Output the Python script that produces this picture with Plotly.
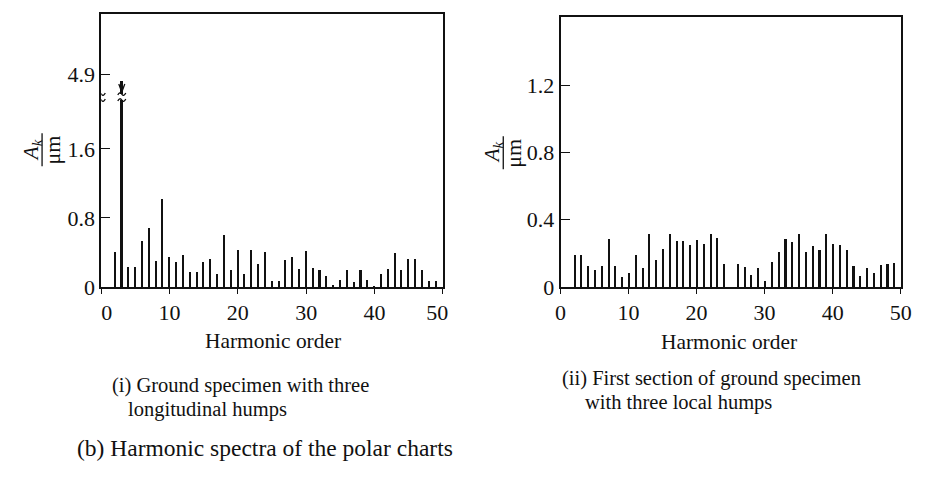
import plotly.graph_objects as go

W, H = 929, 478

# ---------------- data ----------------
harmonics_left = list(range(2, 50))
amplitude_left = [0.41, 4.83, 0.24, 0.24, 0.54, 0.69, 0.31, 1.02, 0.35, 0.29,
                  0.37, 0.18, 0.18, 0.29, 0.33, 0.16, 0.61, 0.20, 0.43, 0.16,
                  0.43, 0.27, 0.41, 0.07, 0.07, 0.32, 0.35, 0.21, 0.42, 0.22,
                  0.20, 0.13, 0.03, 0.085, 0.20, 0.06, 0.20, 0.09, 0.02, 0.15,
                  0.21, 0.40, 0.20, 0.33, 0.33, 0.20, 0.07, 0.07]

harmonics_right = list(range(2, 50))
amplitude_right = [0.19, 0.19, 0.125, 0.106, 0.13, 0.29, 0.125, 0.06, 0.087, 0.195,
                   0.118, 0.315, 0.164, 0.23, 0.315, 0.276, 0.276, 0.25, 0.28, 0.257,
                   0.315, 0.295, 0.14, 0.0, 0.14, 0.124, 0.075, 0.116, 0.039, 0.149,
                   0.21, 0.29, 0.27, 0.32, 0.21, 0.245, 0.22, 0.32, 0.26, 0.25,
                   0.22, 0.13, 0.066, 0.116, 0.085, 0.135, 0.139, 0.143]

x_ticks = [0, 10, 20, 30, 40, 50]
x_tick_text_left = ["\u00a0\u00a00", "10", "20", "30", "40", "50\u00a0\u00a0"]
x_tick_text_right = ["0", "10", "20", "30", "40", "50"]
y_ticks_left = [0, 0.8, 1.6, 4.9]
y_tick_text_left = ["0", "0.8", "1.6", "4.9"]
y_ticks_right = [0, 0.4, 0.8, 1.2]
y_tick_text_right = ["0", "0.4", "0.8", "1.2"]

x_title = "Harmonic order"
caption_left = ["(i) Ground specimen with three", "longitudinal humps"]
caption_right = ["(ii) First section of ground specimen", "with three local humps"]
caption_bottom = "(b) Harmonic spectra of the polar charts"

# broken axis on the left panel
BREAK_AT = 2.2      # value where the axis is interrupted
BREAK_SHIFT = 2.44  # value range removed by the break


def to_display(v):
    return v if v <= BREAK_AT else v - BREAK_SHIFT


def px(x):
    return x / W


def py(y):
    return 1 - y / H


FONT = "Liberation Serif, Times New Roman, serif"
INK = "#111111"

fig = go.Figure()

fig.add_trace(go.Bar(
    x=harmonics_left, y=[to_display(v) for v in amplitude_left],
    width=0.3, marker=dict(color=INK, line=dict(width=0)),
    xaxis="x", yaxis="y", showlegend=False))

fig.add_trace(go.Bar(
    x=harmonics_right, y=amplitude_right,
    width=0.3, marker=dict(color=INK, line=dict(width=0)),
    xaxis="x2", yaxis="y2", showlegend=False))

axis_common = dict(
    showline=True, linecolor=INK, linewidth=1.6, mirror=True,
    showgrid=False, zeroline=False,
    tickfont=dict(family=FONT, size=22, color=INK),
    tickcolor=INK, tickwidth=1.4,
)

fig.update_layout(
    width=W, height=H, autosize=False,
    margin=dict(l=0, r=0, t=0, b=0),
    paper_bgcolor="white", plot_bgcolor="white",
    bargap=0,
    xaxis=dict(axis_common, domain=[px(93), px(445)], range=[0, 50.05],
               tickmode="array", tickvals=x_ticks, ticktext=x_tick_text_left,
               ticks="outside", ticklen=5, anchor="y"),
    yaxis=dict(axis_common, domain=[py(295), py(14)], range=[0, (295 - 14) / 88.75],
               tickmode="array", tickvals=[to_display(v) for v in y_ticks_left],
               ticktext=y_tick_text_left, ticks="inside", ticklen=9,
               anchor="x"),
    xaxis2=dict(axis_common, domain=[px(566), px(917)], range=[0, 50.1],
                tickmode="array", tickvals=x_ticks, ticktext=x_tick_text_right,
                ticks="outside", ticklen=5, anchor="y2"),
    yaxis2=dict(axis_common, domain=[py(295), py(17)], range=[0, (295 - 17) / 173.0],
                tickmode="array", tickvals=y_ticks_right, ticktext=y_tick_text_right,
                ticks="inside", ticklen=10, anchor="x2"),
)

# ---------------- break marks on the left panel ----------------
broken_x = [0] + [h for h, v in zip(harmonics_left, amplitude_left) if v > BREAK_AT]
for bx in broken_x:
    common = dict(xref="x", yref="y", xsizemode="pixel", ysizemode="pixel",
                  xanchor=bx, yanchor=BREAK_AT, layer="above")
    fig.add_shape(type="rect", x0=-5, x1=5, y0=-3, y1=3,
                  fillcolor="white", line=dict(width=0), **common)
    fig.add_shape(type="path", path="M -4,2 Q -2,6 0,3 Q 2,0 4,4",
                  line=dict(color=INK, width=1.3), **common)
    fig.add_shape(type="path", path="M -4,-4 Q -2,0 0,-3 Q 2,-6 4,-2",
                  line=dict(color=INK, width=1.3), **common)
    if bx != 0:
        fig.add_shape(type="path", path="M -3,13 L 0,5 L 3,13",
                      line=dict(color=INK, width=1.3), **common)

# ---------------- texts ----------------
ann = []


def text(t, x, y, size=21, xanchor="center", yanchor="middle", angle=0):
    ann.append(dict(text=t, x=px(x), y=py(y), xref="paper", yref="paper",
                    showarrow=False, xanchor=xanchor, yanchor=yanchor,
                    textangle=angle, font=dict(family=FONT, size=size, color=INK)))


text(x_title, 270, 351, size=21.4)
text(x_title, 740, 352, size=21.4)

text(caption_left[0], 102, 396, size=20.5, xanchor="left")
text(caption_left[1], 118, 421, size=20.5, xanchor="left")
text(caption_right[0], 565, 389, size=20.5, xanchor="left")
text(caption_right[1], 589, 414, size=20.5, xanchor="left")
text(caption_bottom, 66, 461, size=23.5, xanchor="left")

# y-axis titles: the fraction A_k / µm, rotated
for cx, cy in [(21, 154), (496, 157)]:
    text("<i>A<sub>k</sub></i>", cx, cy, size=21, angle=-90)
    text("μm", cx + 22, cy, size=22, angle=-90)
    fig.add_shape(type="line", xref="paper", yref="paper",
                  x0=px(cx + 11), x1=px(cx + 11), y0=py(cy - 17), y1=py(cy + 17),
                  line=dict(color=INK, width=1.3))

fig.update_layout(annotations=ann)

fig.write_html("out.html")
